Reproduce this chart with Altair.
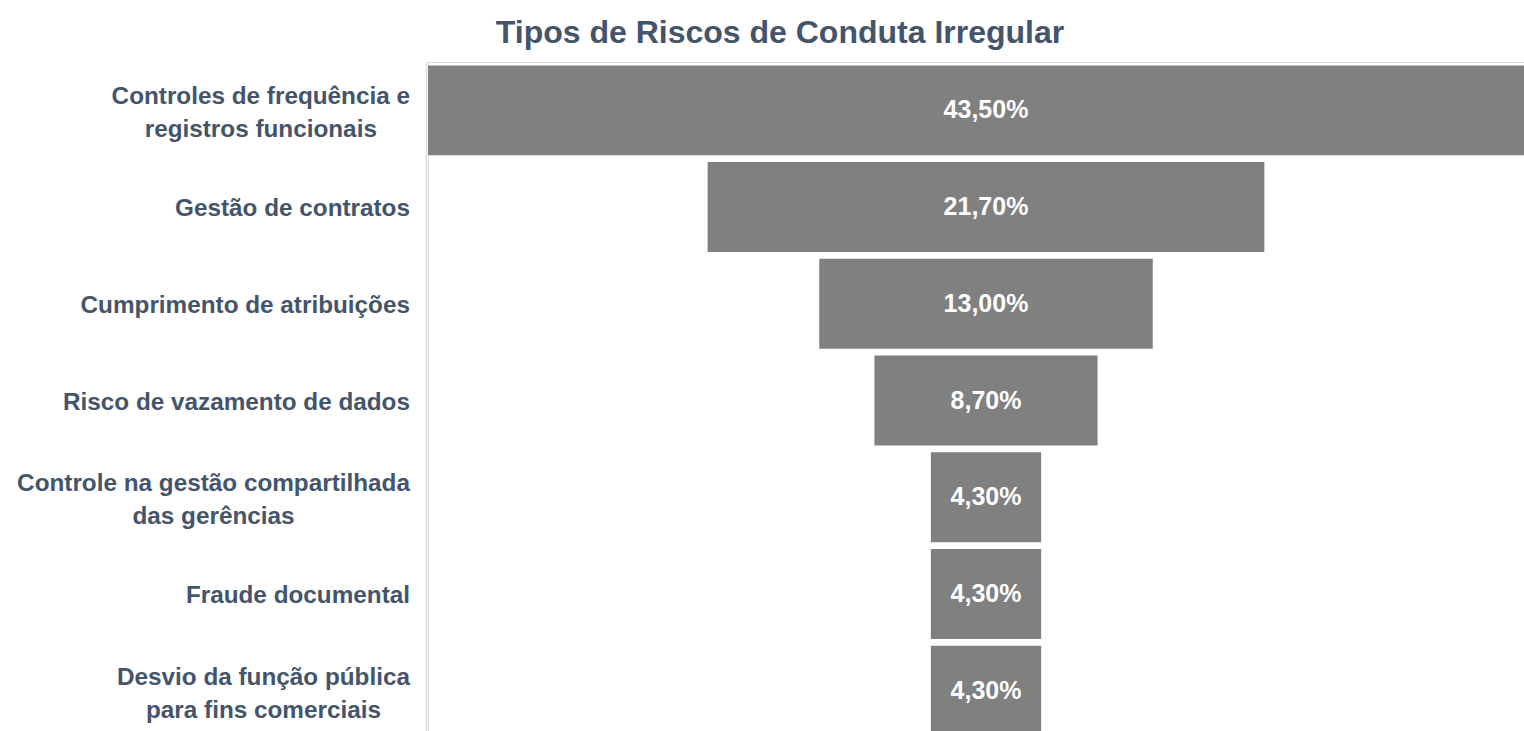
import altair as alt
import pandas as pd

categories = [
    "Controles de frequência e registros funcionais",
    "Gestão de contratos",
    "Cumprimento de atribuições",
    "Risco de vazamento de dados",
    "Controle na gestão compartilhada das gerências",
    "Fraude documental",
    "Desvio da função pública para fins comerciais",
]
label_lines = [
    ["Controles de frequência e", "registros funcionais"],
    ["Gestão de contratos"],
    ["Cumprimento de atribuições"],
    ["Risco de vazamento de dados"],
    ["Controle na gestão compartilhada", "das gerências"],
    ["Fraude documental"],
    ["Desvio da função pública", "para fins comerciais"],
]
values = [43.5, 21.7, 13.0, 8.7, 4.3, 4.3, 4.3]

TEXT_COLOR = "#44546A"
BAR_COLOR = "#808080"
LABEL_SIZE = 24.3
LABEL_RIGHT = -18  # right edge of the label block, px left of plot

# Arial/Liberation Sans Bold advance widths (per 1000 em) for layout of centred lines
W = {" ": 278, "a": 556, "b": 611, "c": 556, "d": 611, "e": 556, "f": 333, "g": 611,
     "h": 611, "i": 278, "l": 278, "m": 889, "n": 611, "o": 611, "p": 611, "q": 611,
     "r": 389, "s": 556, "t": 333, "u": 611, "v": 556, "z": 500, "ã": 556, "á": 556,
     "ê": 556, "ç": 556, "õ": 611, "ú": 611, "ó": 611, "C": 722, "D": 722, "F": 611,
     "G": 778, "R": 722}


def text_width(s):
    return sum(W.get(ch, 556) for ch in s) * LABEL_SIZE / 1000


df = pd.DataFrame({"cat": categories, "value": values})
df["label"] = [f"{v:.2f}".replace(".", ",") + "%" for v in values]

rows = []
for cat, lines in zip(categories, label_lines):
    block_w = max(text_width(l) for l in lines)
    for i, l in enumerate(lines):
        kind = "single" if len(lines) == 1 else ("first" if i == 0 else "second")
        rows.append({"cat": cat, "line": l, "kind": kind,
                     "px": LABEL_RIGHT - block_w / 2})
lines_df = pd.DataFrame(rows)

half = max(values) / 2
y_scale = alt.Scale(domain=categories, range=[0, 677], paddingInner=0.07, paddingOuter=0.035)
x_scale = alt.Scale(domain=[-half, half], range=[0, 1116], nice=False, zero=False)

bars = alt.Chart(df).transform_calculate(
    x0="-datum.value/2", x1="datum.value/2"
).mark_bar(color=BAR_COLOR).encode(
    x=alt.X("x0:Q", scale=x_scale, axis=None),
    x2="x1:Q",
    y=alt.Y("cat:N", scale=y_scale, sort=categories,
            axis=alt.Axis(title=None, labels=False, ticks=False, grid=False,
                          domainColor="#D9D9D9", domainWidth=1.5, offset=2)),
)

values_text = alt.Chart(df).transform_calculate(zero="0").mark_text(
    color="white", font="Liberation Sans", fontWeight="bold", fontSize=25,
    align="center", baseline="middle",
).encode(
    x=alt.X("zero:Q", scale=x_scale, axis=None),
    y=alt.Y("cat:N", scale=y_scale, sort=categories),
    text="label:N",
)


def label_layer(kind, dy):
    return alt.Chart(lines_df).transform_filter(
        alt.datum.kind == kind
    ).mark_text(
        color=TEXT_COLOR, font="Liberation Sans", fontWeight="bold",
        fontSize=LABEL_SIZE, align="center", baseline="middle", dy=dy,
    ).encode(
        x=alt.X("px:Q", scale=None),
        y=alt.Y("cat:N", scale=y_scale, sort=categories),
        text="line:N",
    )


chart = alt.layer(
    bars, values_text,
    label_layer("single", 2), label_layer("first", -13), label_layer("second", 20),
).properties(
    width=1096,
    height=669,
    padding={"left": 428, "top": 62, "right": 0, "bottom": 0},
    autosize=alt.AutoSizeParams(type="none"),
    title=alt.TitleParams(
        "Tipos de Riscos de Conduta Irregular",
        font="Liberation Sans", fontWeight="bold", fontSize=32,
        color=TEXT_COLOR, anchor="middle", dx=-196, offset=12,
    ),
).configure_view(stroke=None).configure(background="white")

chart.save("out.html", embed_options={"renderer": "svg", "actions": False})
